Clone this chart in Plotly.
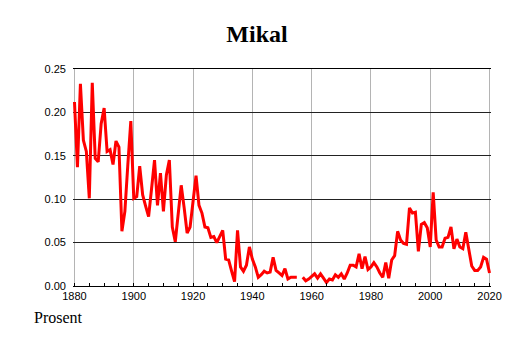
import plotly.graph_objects as go

years = list(range(1880, 2021))
values = [
    0.212, 0.137, 0.233, 0.168, 0.155, 0.101, 0.234, 0.147, 0.143, 0.187,  # 1880-1889
    0.205, 0.155, 0.157, 0.140, 0.167, 0.160, 0.063, 0.086, 0.140, 0.190,  # 1890-1899
    0.101, 0.103, 0.138, 0.105, 0.092, 0.080, 0.112, 0.145, 0.093, 0.130,  # 1900-1909
    0.086, 0.128, 0.145, 0.068, 0.051, 0.083, 0.116, 0.090, 0.061, 0.068,  # 1910-1919
    0.095, 0.127, 0.093, 0.084, 0.068, 0.067, 0.056, 0.057, 0.050, 0.057,  # 1920-1929
    0.064, 0.031, 0.030, 0.017, 0.005, 0.064, 0.022, 0.017, 0.024, 0.045,  # 1930-1939
    0.031, 0.022, 0.010, 0.013, 0.017, 0.015, 0.016, 0.033, 0.018, 0.015,  # 1940-1949
    0.012, 0.020, 0.008, 0.010, 0.010, 0.010, None, 0.010, 0.006, 0.008,   # 1950-1959
    0.011, 0.014, 0.009, 0.014, 0.009, 0.004, 0.008, 0.007, 0.013, 0.010,  # 1960-1969
    0.014, 0.008, 0.015, 0.024, 0.024, 0.022, 0.037, 0.020, 0.034, 0.019,  # 1970-1979
    0.022, 0.027, 0.022, 0.015, 0.010, 0.027, 0.009, 0.030, 0.035, 0.063,  # 1980-1989
    0.053, 0.049, 0.048, 0.090, 0.084, 0.085, 0.040, 0.071, 0.073, 0.067,  # 1990-1999
    0.045, 0.108, 0.053, 0.045, 0.045, 0.055, 0.056, 0.068, 0.043, 0.054,  # 2000-2009
    0.045, 0.043, 0.062, 0.041, 0.023, 0.018, 0.018, 0.022, 0.033, 0.031,  # 2010-2019
    0.015,                                                                 # 2020
]
x_ticks = [1880, 1900, 1920, 1940, 1960, 1980, 2000, 2020]
y_ticks = [0.00, 0.05, 0.10, 0.15, 0.20, 0.25]
title_text = "Mikal"
unit_text = "Prosent"

fig = go.Figure()
fig.add_trace(go.Scatter(
    x=years, y=values, mode="lines",
    line=dict(color="#ff0000", width=3),
    connectgaps=False, hoverinfo="skip", showlegend=False,
))

tick_font = dict(family="Liberation Sans, Arial, sans-serif", size=11, color="black")

fig.update_layout(
    width=514, height=343,
    margin=dict(l=73, r=21, t=69, b=57),
    paper_bgcolor="white", plot_bgcolor="white",
    title=dict(text=f"<b>{title_text}</b>", x=0.5, xanchor="center",
               y=1 - 34 / 343, yanchor="middle",
               font=dict(family="Liberation Serif, Times New Roman, serif", size=24, color="black")),
    xaxis=dict(
        range=[1879.5, 2020.5], tickvals=x_ticks, ticktext=[str(v) for v in x_ticks],
        showgrid=True, gridcolor="#b4b4b4", gridwidth=1, zeroline=False,
        showline=True, linecolor="black", linewidth=1, mirror=True,
        ticks="inside", ticklen=3, tickcolor="black",
        minor=dict(dtick=5, tick0=1880, ticks="inside", ticklen=3, tickcolor="black", showgrid=False),
        tickfont=tick_font, fixedrange=True,
    ),
    yaxis=dict(
        range=[0, 0.25], tickvals=y_ticks, tickformat=".2f",
        showgrid=True, gridcolor="#222222", gridwidth=1, zeroline=False,
        showline=False, ticks="", ticklabelstandoff=6,
        tickfont=tick_font, fixedrange=True,
    ),
    annotations=[dict(
        text=unit_text, xref="paper", yref="paper", x=-41 / 420, y=-(317 - 286) / 217,
        xanchor="left", yanchor="middle", showarrow=False,
        font=dict(family="Liberation Serif, Times New Roman, serif", size=16, color="black"),
    )],
)

fig.write_html("out.html")
